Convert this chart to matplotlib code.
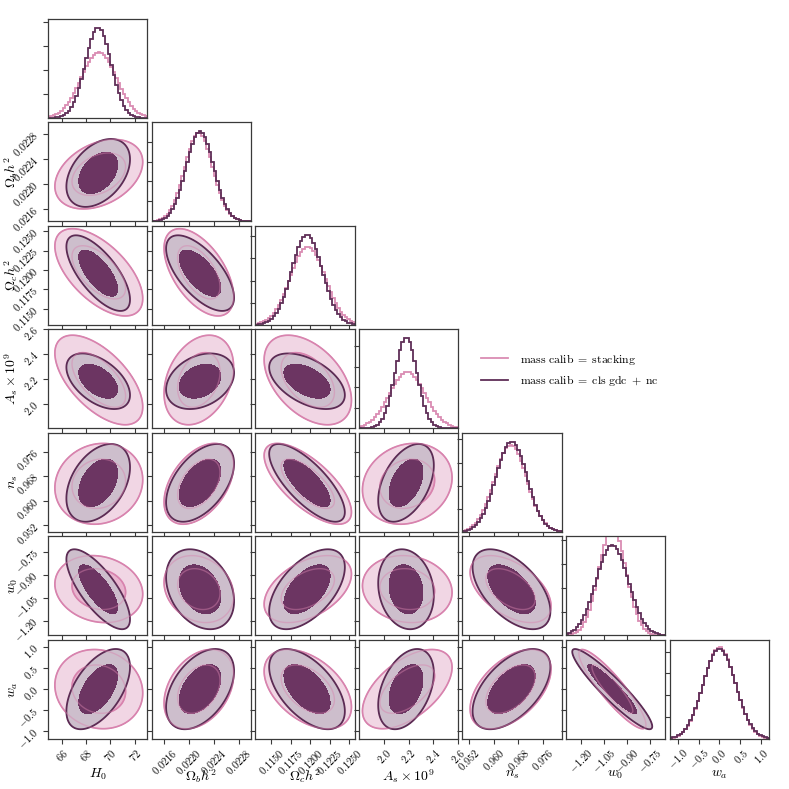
import numpy as np
import matplotlib
matplotlib.use('Agg')
import matplotlib.pyplot as plt
from matplotlib.ticker import FixedLocator, FixedFormatter, MaxNLocator, NullFormatter
from matplotlib.lines import Line2D
from math import erf, sqrt

plt.rcParams['mathtext.fontset'] = 'cm'
plt.rcParams['font.family'] = ['DejaVu Serif']

# ---------------- data ----------------
param_labels = [r'$H_0$', r'$\Omega_b h^2$', r'$\Omega_c h^2$', r'$A_s \times 10^9$',
                r'$n_s$', r'$w_0$', r'$w_a$']
series_names = [r'$\mathrm{mass\ calib}\;=\;\mathrm{stacking}$',
                r'$\mathrm{mass\ calib}\;=\;\mathrm{cls\ gdc}\;+\;\mathrm{nc}$']

# marginal means and standard deviations
mean_stacking = [69.05, 0.02216, 0.1197, 2.19, 0.9655, -0.994, 0.0]
sigma_stacking = [1.45, 0.000225, 0.00225, 0.145, 0.0053, 0.088, 0.38]
mean_clsgdc = [69.0, 0.02218, 0.1196, 2.18, 0.9658, -0.995, 0.0]
sigma_clsgdc = [1.05, 0.00022, 0.00195, 0.09, 0.0051, 0.105, 0.385]

# pairwise correlations (row param, column param)
corr_stacking = {
    (1, 0): 0.35, (2, 0): -0.6, (3, 0): -0.6, (4, 0): 0.1, (5, 0): -0.15, (6, 0): -0.1,
    (2, 1): -0.55, (3, 1): 0.3, (4, 1): 0.45, (5, 1): -0.2, (6, 1): 0.35,
    (3, 2): -0.45, (4, 2): -0.7, (5, 2): 0.45, (6, 2): -0.45,
    (4, 3): 0.15, (5, 3): -0.1, (6, 3): 0.55,
    (5, 4): -0.5, (6, 4): 0.5,
    (6, 5): -0.9,
}
corr_clsgdc = {
    (1, 0): 0.4, (2, 0): -0.7, (3, 0): -0.5, (4, 0): 0.4, (5, 0): -0.75, (6, 0): 0.55,
    (2, 1): -0.65, (3, 1): 0.3, (4, 1): 0.5, (5, 1): -0.3, (6, 1): 0.45,
    (3, 2): -0.5, (4, 2): -0.75, (5, 2): 0.55, (6, 2): -0.55,
    (4, 3): 0.45, (5, 3): -0.15, (6, 3): 0.4,
    (5, 4): -0.55, (6, 4): 0.55,
    (6, 5): -0.93,
}

axis_ranges = [(64.88, 73.04), (0.0214, 0.0230), (0.11296, 0.1257), (1.8, 2.6),
               (0.9498, 0.9822), (-1.297, -0.648), (-1.19, 1.18)]
tick_values = [[66, 68, 70, 72],
               [0.0216, 0.0220, 0.0224, 0.0228],
               [0.1150, 0.1175, 0.1200, 0.1225, 0.1250],
               [2.0, 2.2, 2.4, 2.6],
               [0.952, 0.960, 0.968, 0.976],
               [-1.20, -1.05, -0.90, -0.75],
               [-1.0, -0.5, 0.0, 0.5, 1.0]]
tick_labels = [['66', '68', '70', '72'],
               ['0.0216', '0.0220', '0.0224', '0.0228'],
               ['0.1150', '0.1175', '0.1200', '0.1225', '0.1250'],
               ['2.0', '2.2', '2.4', '2.6'],
               ['0.952', '0.960', '0.968', '0.976'],
               ['-1.20', '-1.05', '-0.90', '-0.75'],
               ['-1.0', '-0.5', '0.0', '0.5', '1.0']]

# ---------------- style ----------------
pink_fill_outer = '#f1d6e4'
pink_fill_inner = '#e8b4ce'
pink_line = '#d883ae'
dark_fill_outer = '#cdbecc'
dark_fill_inner = '#6c3562'
dark_line = '#5c2b54'
hist_pink = '#da8cb3'
hist_dark = '#5f2e57'
spine_col = '#3a3a3a'
chi2_levels = [2.30, 6.18]   # 68% and 95% for 2 dof
nbins = 40

series = [
    dict(mean=mean_stacking, sigma=sigma_stacking, corr=corr_stacking,
         f_out=pink_fill_outer, f_in=pink_fill_inner, line=pink_line, hist=hist_pink),
    dict(mean=mean_clsgdc, sigma=sigma_clsgdc, corr=corr_clsgdc,
         f_out=dark_fill_outer, f_in=dark_fill_inner, line=dark_line, hist=hist_dark),
]

npar = len(param_labels)
fig = plt.figure(figsize=(7.89, 7.89), dpi=100)
axes = fig.subplots(npar, npar)
fig.subplots_adjust(left=48 / 789, right=769 / 789, bottom=1 - 739 / 789,
                    top=1 - 18.5 / 789, wspace=0.042, hspace=0.042)


def mtext(s):
    return '$' + s + '$'


def chi2_grid(s, i, j, X, Y):
    mx, my = s['mean'][j], s['mean'][i]
    sx, sy = s['sigma'][j], s['sigma'][i]
    r = s['corr'][(i, j)]
    dx = (X - mx) / sx
    dy = (Y - my) / sy
    return (dx ** 2 - 2 * r * dx * dy + dy ** 2) / (1 - r ** 2)


for i in range(npar):
    for j in range(npar):
        ax = axes[i, j]
        if j > i:
            ax.set_visible(False)
            continue
        xlo, xhi = axis_ranges[j]
        if i == j:
            edges = np.linspace(xlo, xhi, nbins + 1)
            heights = []
            for s in series:
                m, sd = s['mean'][i], s['sigma'][i]
                cdf = np.array([0.5 * (1 + erf((e - m) / (sd * sqrt(2)))) for e in edges])
                h = np.diff(cdf) / np.diff(edges)
                heights.append(h)
                ax.stairs(h, edges, color=s['hist'], lw=1.3)
            ax.set_ylim(0, 1.1 * heights[1].max())
            ax.yaxis.set_major_locator(MaxNLocator(5, prune='lower'))
            ax.yaxis.set_major_formatter(NullFormatter())
        else:
            ylo, yhi = axis_ranges[i]
            for k, s in enumerate(series):
                mx, my = s['mean'][j], s['mean'][i]
                sx, sy = s['sigma'][j], s['sigma'][i]
                gx = np.linspace(mx - 4 * sx, mx + 4 * sx, 300)
                gy = np.linspace(my - 4 * sy, my + 4 * sy, 300)
                X, Y = np.meshgrid(gx, gy)
                C = chi2_grid(s, i, j, X, Y)
                ax.contourf(X, Y, C, levels=[0, chi2_levels[1]], colors=[s['f_out']], zorder=1 + 2 * k)
                ax.contourf(X, Y, C, levels=[0, chi2_levels[0]], colors=[s['f_in']], zorder=1.5 + 2 * k)
                if k == 1:
                    ax.contour(X, Y, C, levels=[chi2_levels[1]], colors=[s['line']],
                               linewidths=1.3, zorder=5)
                else:
                    ax.contour(X, Y, C, levels=chi2_levels, colors=[s['line']],
                               linewidths=1.2, zorder=1.8)
                    ax.contour(X, Y, C, levels=chi2_levels, colors=[s['line']],
                               linewidths=1.0, alpha=0.45, zorder=6)
            ax.set_ylim(ylo, yhi)
            ax.yaxis.set_major_locator(FixedLocator(tick_values[i]))
            if j == 0:
                ax.yaxis.set_major_formatter(FixedFormatter([mtext(t) for t in tick_labels[i]]))
                for lab in ax.get_yticklabels():
                    lab.set_rotation(45)
                ax.set_ylabel(param_labels[i], fontsize=10)
                ax.yaxis.set_label_coords(-0.28, 0.5)
            else:
                ax.yaxis.set_major_formatter(NullFormatter())
        ax.set_xlim(xlo, xhi)
        ax.xaxis.set_major_locator(FixedLocator(tick_values[j]))
        if i == npar - 1:
            ax.xaxis.set_major_formatter(FixedFormatter([mtext(t) for t in tick_labels[j]]))
            for lab in ax.get_xticklabels():
                lab.set_rotation(45)
                lab.set_ha('center')
            ax.set_xlabel(param_labels[j], fontsize=10)
            ax.xaxis.set_label_coords(0.5, -0.28)
        else:
            ax.xaxis.set_major_formatter(NullFormatter())
        ax.tick_params(direction='out', length=3.5, width=0.8, color=spine_col,
                       labelsize=7.5, pad=2)
        for sp in ax.spines.values():
            sp.set_linewidth(0.9)
            sp.set_color(spine_col)

handles = [Line2D([], [], color=hist_pink, lw=1.3), Line2D([], [], color=hist_dark, lw=1.3)]
fig.legend(handles, series_names, loc='upper left', bbox_to_anchor=(470 / 789, 1 - 341 / 789),
           frameon=False, fontsize=8.5, handlelength=2.3, handletextpad=1.0, labelspacing=0.55)

fig.savefig('out.png', dpi=100)
